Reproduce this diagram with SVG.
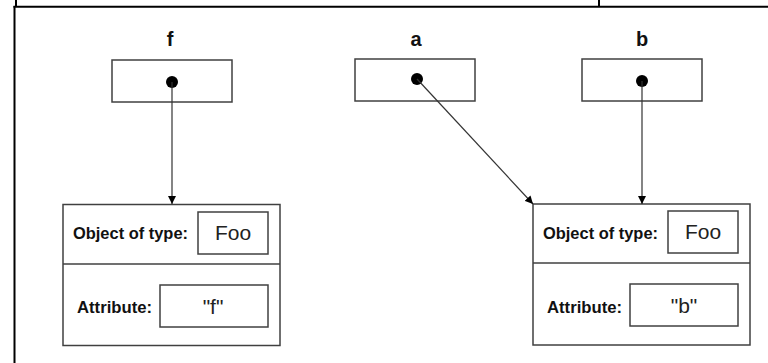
<svg xmlns="http://www.w3.org/2000/svg" width="768" height="363" viewBox="0 0 768 363">
  <style>
    .frame { stroke: #000; stroke-width: 2; fill: none; }
    .box { fill: #fff; stroke: #404040; stroke-width: 1.5; }
    .conn { stroke: #333; stroke-width: 1.2; fill: none; }
    .dot { fill: #000; }
    .var { font-family: "Liberation Sans", Arial, sans-serif; font-weight: bold; font-size: 20px; fill: #111; text-anchor: middle; }
    .lbl { font-family: "Liberation Sans", Arial, sans-serif; font-weight: bold; font-size: 16px; fill: #111; }
    .val { font-family: "Liberation Sans", Arial, sans-serif; font-size: 21px; fill: #222; text-anchor: middle; }
  </style>
  <defs>
    <marker id="arrow" viewBox="0 0 10 10" refX="10" refY="5" markerWidth="8" markerHeight="8" markerUnits="userSpaceOnUse" orient="auto">
      <path d="M0,0 L10,5 L0,10 Z" fill="#000"/>
    </marker>
  </defs>
  <rect width="768" height="363" fill="#fff"/>

  <g id="frame">
    <line class="frame" x1="16" y1="0" x2="16" y2="6"/>
    <line class="frame" x1="599" y1="0" x2="599" y2="6"/>
    <line class="frame" x1="13.5" y1="6.7" x2="768" y2="6.7"/>
    <line class="frame" x1="14.5" y1="6" x2="14.5" y2="363"/>
  </g>

  <g id="var-f">
    <text class="var" x="170" y="46">f</text>
    <rect class="box" x="112" y="60" width="120" height="42"/>
    <circle class="dot" cx="172" cy="82" r="6"/>
  </g>

  <g id="var-a">
    <text class="var" x="416" y="46">a</text>
    <rect class="box" x="355" y="59" width="120" height="42"/>
    <circle class="dot" cx="417" cy="79" r="6"/>
  </g>

  <g id="var-b">
    <text class="var" x="642" y="46">b</text>
    <rect class="box" x="582" y="59" width="120" height="42"/>
    <circle class="dot" cx="642" cy="81" r="6"/>
  </g>

  <g id="object-f">
    <rect class="box" x="63" y="204.5" width="217" height="141"/>
    <line class="box" x1="63" y1="264" x2="280" y2="264"/>
    <text class="lbl" x="73" y="239" textLength="115" lengthAdjust="spacingAndGlyphs">Object of type:</text>
    <rect class="box" x="198" y="212" width="70" height="42"/>
    <text class="val" x="233" y="240">Foo</text>
    <text class="lbl" x="77" y="313" textLength="75" lengthAdjust="spacingAndGlyphs">Attribute:</text>
    <rect class="box" x="160" y="285" width="108" height="42"/>
    <text class="val" x="213" y="314">"f"</text>
  </g>

  <g id="object-b">
    <rect class="box" x="533" y="204" width="217" height="141"/>
    <line class="box" x1="533" y1="263" x2="750" y2="263"/>
    <text class="lbl" x="543" y="238.5" textLength="115" lengthAdjust="spacingAndGlyphs">Object of type:</text>
    <rect class="box" x="668" y="211" width="70" height="42"/>
    <text class="val" x="703" y="239">Foo</text>
    <text class="lbl" x="547" y="312.5" textLength="75" lengthAdjust="spacingAndGlyphs">Attribute:</text>
    <rect class="box" x="630" y="284" width="108" height="42"/>
    <text class="val" x="684" y="313">"b"</text>
  </g>

  <g id="connectors">
    <line class="conn" x1="172" y1="82" x2="172" y2="204" marker-end="url(#arrow)"/>
    <line class="conn" x1="417" y1="79" x2="533" y2="204" marker-end="url(#arrow)"/>
    <line class="conn" x1="642" y1="81" x2="642" y2="204" marker-end="url(#arrow)"/>
  </g>
</svg>
